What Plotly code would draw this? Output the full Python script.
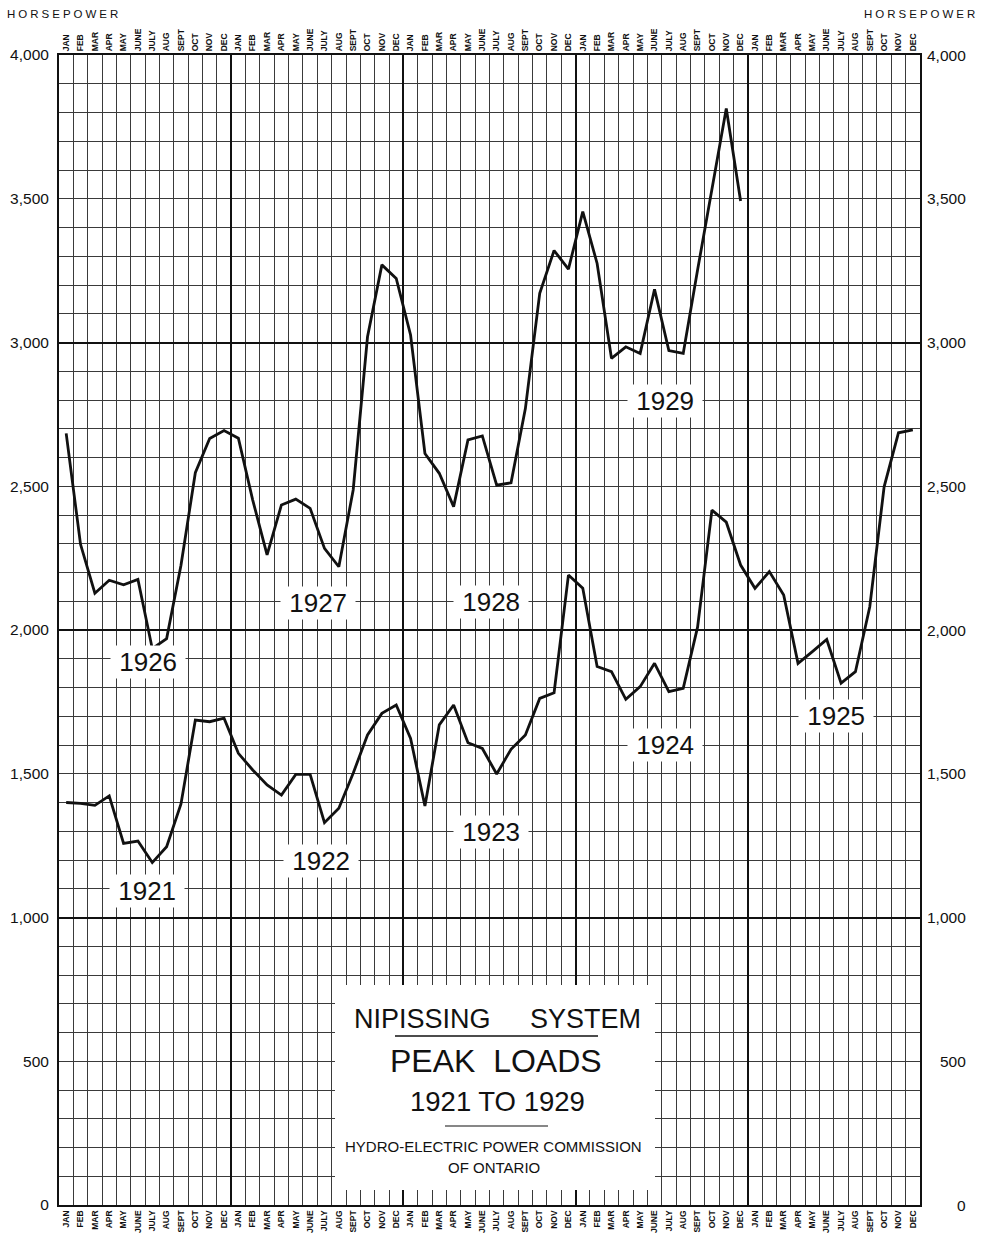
import plotly.graph_objects as go

# ---------------- data ----------------
months = ["JAN", "FEB", "MAR", "APR", "MAY", "JUNE", "JULY", "AUG", "SEPT", "OCT", "NOV", "DEC"]

hp_1921 = [1400, 1397, 1390, 1423, 1258, 1266, 1191, 1246, 1395, 1687, 1681, 1693]
hp_1922 = [1571, 1513, 1461, 1426, 1498, 1498, 1330, 1380, 1502, 1635, 1710, 1739]
hp_1923 = [1623, 1388, 1670, 1739, 1608, 1588, 1499, 1585, 1635, 1762, 1782, 2191]
hp_1924 = [2145, 1873, 1855, 1759, 1803, 1884, 1786, 1797, 2010, 2417, 2375, 2226]
hp_1925 = [2145, 2203, 2122, 1884, 1925, 1967, 1815, 1855, 2081, 2498, 2686, 2696]

hp_1926 = [2684, 2298, 2128, 2173, 2157, 2176, 1935, 1970, 2225, 2547, 2666, 2694]
hp_1927 = [2667, 2452, 2261, 2435, 2455, 2423, 2284, 2220, 2487, 3020, 3270, 3223]
hp_1928 = [3026, 2614, 2545, 2429, 2661, 2675, 2504, 2512, 2770, 3171, 3320, 3255]
hp_1929 = [3455, 3275, 2945, 2985, 2962, 3185, 2972, 2962, 3252, 3537, 3814, 3492]

lower_years = ["1921", "1922", "1923", "1924", "1925"]
upper_years = ["1926", "1927", "1928", "1929"]

y_tick_vals = [0, 500, 1000, 1500, 2000, 2500, 3000, 3500, 4000]
y_tick_text = ["0", "500", "1,000", "1,500", "2,000", "2,500", "3,000", "3,500", "4,000"]

# ---------------- build ----------------
lower = hp_1921 + hp_1922 + hp_1923 + hp_1924 + hp_1925
upper = hp_1926 + hp_1927 + hp_1928 + hp_1929
n_months = len(lower)

W, H = 982, 1233
L, R, T, B = 59, 62, 55, 28
PW, PH = W - L - R, H - T - B


def px(x):
    return (x - L) / PW


def py(y):
    return (T + PH - y) / PH


FONT = "Liberation Sans, Arial, sans-serif"
NARROW = "Liberation Sans Narrow, Liberation Sans, Arial, sans-serif"
LINE = "#111111"
GRID = "#3a3a3a"

month_vals = list(range(n_months))
month_text = months * (n_months // 12)

fig = go.Figure()
for series in (lower, upper):
    fig.add_trace(go.Scatter(
        x=list(range(len(series))), y=series, mode="lines",
        line=dict(color=LINE, width=2.8), hoverinfo="skip", showlegend=False,
    ))
# transparent copies so that the overlay axes (top labels, grids) are drawn
for xa, ya in (("x2", "y"), ("x3", "y2"), ("x4", "y3")):
    fig.add_trace(go.Scatter(
        x=month_vals, y=lower, xaxis=xa, yaxis=ya, mode="lines", opacity=0,
        line=dict(width=0), hoverinfo="skip", showlegend=False,
    ))

xr = [-0.5, n_months - 0.5]
common_x = dict(range=xr, autorange=False, zeroline=False, fixedrange=True, automargin=False)
common_y = dict(range=[0, 4000], autorange=False, zeroline=False, fixedrange=True, automargin=False)
mfont = dict(size=8.5, family=NARROW, color="#111", weight="bold")

fig.update_layout(
    template="none",
    width=W, height=H,
    margin=dict(l=L, r=R, t=T, b=B, pad=0),
    paper_bgcolor="white", plot_bgcolor="white",
    xaxis=dict(**common_x, tickvals=month_vals, ticktext=month_text, tickangle=-90,
               tickfont=mfont, showgrid=False, showline=True, linecolor=LINE, linewidth=2,
               ticks="", side="bottom", anchor="y"),
    xaxis2=dict(**common_x, overlaying="x", side="top", anchor="y",
                tickvals=month_vals, ticktext=month_text, tickangle=-90,
                tickfont=mfont, showgrid=False, showline=True, linecolor=LINE, linewidth=2,
                ticks=""),
    xaxis3=dict(**common_x, overlaying="x", anchor="y2", tickmode="linear", tick0=-0.5, dtick=1,
                showticklabels=False, ticks="", showgrid=True, gridcolor=GRID, gridwidth=1,
                showline=False),
    xaxis4=dict(**common_x, overlaying="x", anchor="y3", tickmode="linear", tick0=-0.5, dtick=12,
                showticklabels=False, ticks="", showgrid=True, gridcolor=LINE, gridwidth=2,
                showline=False),
    yaxis=dict(**common_y, tickvals=y_tick_vals, ticktext=y_tick_text,
               tickfont=dict(size=15.5, family=FONT, color="#111"), ticklabelstandoff=5,
               showgrid=False, showline=True, linecolor=LINE, linewidth=2,
               ticks="", anchor="x", side="left"),
    yaxis2=dict(**common_y, overlaying="y", anchor="x3", tickmode="linear", tick0=0, dtick=100,
                showticklabels=False, ticks="", showgrid=True, gridcolor=GRID, gridwidth=1,
                showline=False),
    yaxis3=dict(**common_y, overlaying="y", anchor="x4", side="right", tickmode="linear", tick0=0,
                dtick=1000, showticklabels=False, ticks="", showgrid=True, gridcolor=LINE,
                gridwidth=2, showline=True, linecolor=LINE, linewidth=2),
)

annotations = []
# right-hand value labels
for v, t in zip(y_tick_vals, y_tick_text):
    annotations.append(dict(xref="paper", yref="y", x=px(968), y=v, text=t, showarrow=False,
                            xanchor="right", yanchor="middle",
                            font=dict(size=15.5, family=FONT, color="#111")))

# HORSEPOWER headings
for x in (5, 862):
    annotations.append(dict(xref="paper", yref="paper", x=px(x), y=py(14),
                            text='<span style="letter-spacing:3px">HORSEPOWER</span>',
                            showarrow=False, xanchor="left", yanchor="middle",
                            font=dict(size=11.5, family=FONT, color="#111")))

# year labels
label_pos = {
    "1921": (5.60, 1092), "1922": (17.76, 1197), "1923": (29.60, 1297),
    "1924": (41.70, 1600), "1925": (53.68, 1701),
    "1926": (5.70, 1887), "1927": (17.55, 2094), "1928": (29.60, 2097),
    "1929": (41.70, 2797),
}
for yr in lower_years + upper_years:
    x, y = label_pos[yr]
    annotations.append(dict(xref="x", yref="y", x=x, y=y, text="\u00a0" + yr + "\u00a0",
                            showarrow=False, bgcolor="white", borderpad=1,
                            font=dict(size=26, family=FONT, color="#111")))

# title block
title_items = [
    ("NIPISSING", 422, 1019, 27),
    ("SYSTEM", 585, 1019, 27),
    ("PEAK  LOADS", 496, 1061, 32),
    ("1921 TO 1929", 497, 1101, 27.5),
    ("HYDRO-ELECTRIC POWER COMMISSION", 494, 1146, 15),
    ("OF ONTARIO", 494, 1167, 15),
]
for text, x, y, s in title_items:
    annotations.append(dict(xref="paper", yref="paper", x=px(x), y=py(y), text=text,
                            showarrow=False, xanchor="center", yanchor="middle",
                            font=dict(size=s, family=FONT, color="#111")))
fig.update_layout(annotations=annotations)

fig.update_layout(shapes=[
    dict(type="rect", xref="paper", yref="paper", x0=px(335), x1=px(655), y0=py(1190), y1=py(985),
         fillcolor="white", line=dict(width=0), layer="above"),
    dict(type="line", xref="paper", yref="paper", x0=px(395), x1=px(598), y0=py(1036), y1=py(1036),
         line=dict(color=LINE, width=1.5), layer="above"),
    dict(type="line", xref="paper", yref="paper", x0=px(445), x1=px(548), y0=py(1126), y1=py(1126),
         line=dict(color=LINE, width=1.2), layer="above"),
])

fig.write_html(
    "out.html",
    config={"displayModeBar": False, "staticPlot": False},
    post_script="document.body.style.margin='0px';document.body.style.overflow='hidden';",
)
